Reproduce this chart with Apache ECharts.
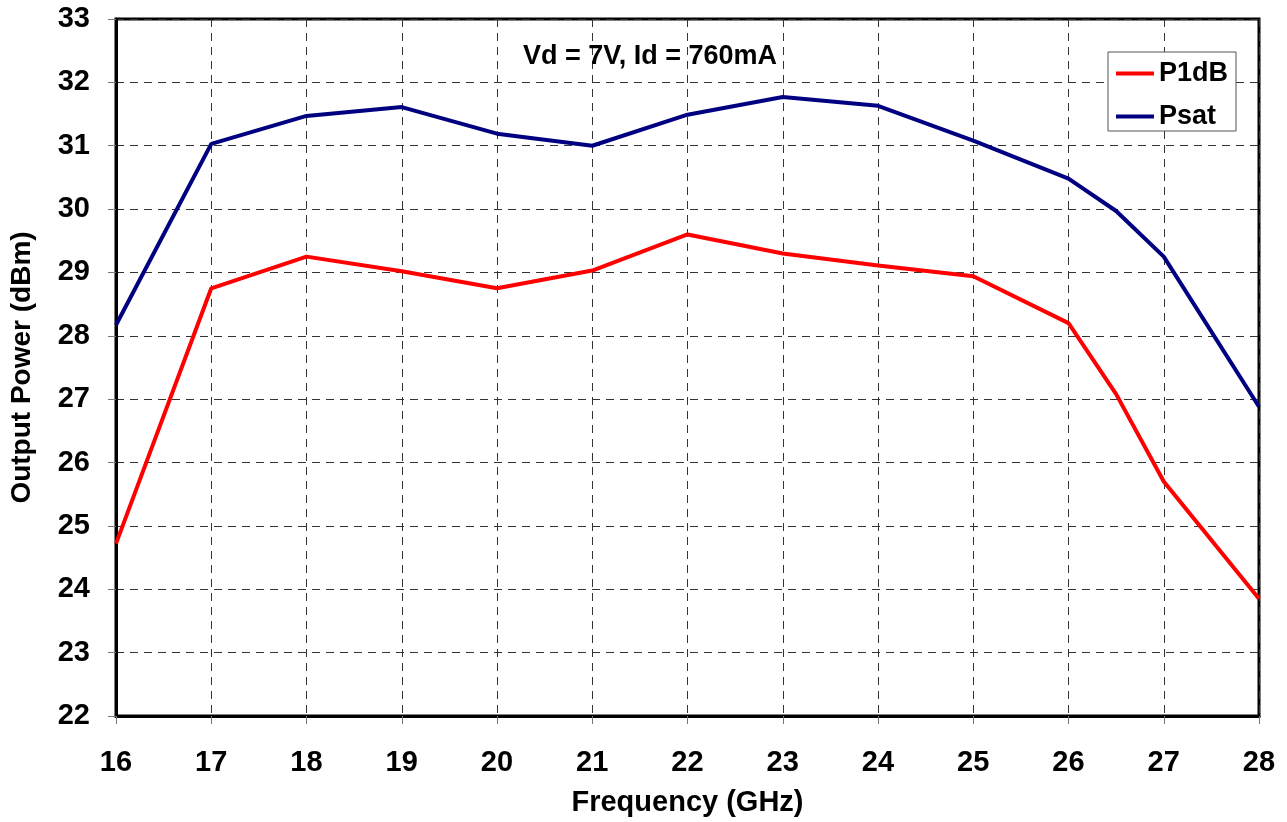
<!DOCTYPE html>
<html><head><meta charset="utf-8">
<script src="https://cdn.jsdelivr.net/npm/echarts@6/dist/echarts.min.js"></script>
<style>html,body{margin:0;padding:0;background:#fff}#c{width:1287px;height:822px}</style>
</head><body><div id="c"></div>
<script>
const freq = [16, 17, 18, 19, 20, 21, 22, 23, 24, 25, 26, 26.5, 27, 28];
const p1dB = [24.72, 28.75, 29.25, 29.02, 28.75, 29.03, 29.6, 29.3, 29.11, 28.94, 28.2, 27.08, 25.7, 23.85];
const psat = [28.17, 31.03, 31.47, 31.61, 31.19, 31.0, 31.49, 31.77, 31.63, 31.08, 30.48, 29.97, 29.25, 26.88];
const seriesNames = ['P1dB', 'Psat'];
const titleText = 'Vd = 7V, Id = 760mA';
const xName = 'Frequency (GHz)';
const yName = 'Output Power (dBm)';

const font = '"Liberation Sans", Arial, sans-serif';
const chart = echarts.init(document.getElementById('c'), null, {renderer: 'canvas'});
chart.setOption({
  animation: false,
  backgroundColor: '#fff',
  title: {text: titleText, left: 645, top: 38, textAlign: 'center',
    textStyle: {fontFamily: font, fontWeight: 'bold', fontSize: 27, color: '#000'}},
  grid: {left: 114, right: 28, top: 19, bottom: 104, show: true, borderColor: '#000', borderWidth: 3},
  legend: {
    orient: 'vertical', right: 51, top: 52,
    data: seriesNames,
    backgroundColor: '#fff', borderColor: '#555', borderWidth: 1,
    padding: [8, 8, 1, 8], itemGap: 16,
    icon: 'rect', itemWidth: 38, itemHeight: 4,
    textStyle: {fontFamily: font, fontWeight: 'bold', fontSize: 27, color: '#000'}
  },
  xAxis: {
    type: 'value', min: 16, max: 28, interval: 1,
    name: xName, nameLocation: 'middle', nameGap: 72,
    nameTextStyle: {fontFamily: font, fontWeight: 'bold', fontSize: 29, color: '#000'},
    axisLine: {show: true, onZero: false, lineStyle: {color: '#000', width: 3}},
    axisTick: {show: true, length: 8, lineStyle: {color: '#777', width: 1}},
    axisLabel: {margin: 32, fontFamily: font, fontWeight: 'bold', fontSize: 29, color: '#000'},
    splitLine: {show: true, lineStyle: {color: '#333', width: 1, type: [8, 6]}}
  },
  yAxis: {
    type: 'value', min: 22, max: 33, interval: 1,
    name: yName, nameLocation: 'middle', nameGap: 80, nameRotate: 90,
    nameTextStyle: {fontFamily: font, fontWeight: 'bold', fontSize: 28, color: '#000'},
    axisLine: {show: true, onZero: false, lineStyle: {color: '#000', width: 3}},
    axisTick: {show: true, length: 8, lineStyle: {color: '#777', width: 1}},
    axisLabel: {margin: 26, fontFamily: font, fontWeight: 'bold', fontSize: 29, color: '#000'},
    splitLine: {show: true, lineStyle: {color: '#333', width: 1, type: [8, 6]}}
  },
  series: [
    {name: seriesNames[0], type: 'line', data: freq.map((f, i) => [f, p1dB[i]]),
      showSymbol: false, symbol: 'none', lineStyle: {color: '#ff0000', width: 4}, itemStyle: {color: '#ff0000'}, z: 3},
    {name: seriesNames[1], type: 'line', data: freq.map((f, i) => [f, psat[i]]),
      showSymbol: false, symbol: 'none', lineStyle: {color: '#000080', width: 4}, itemStyle: {color: '#000080'}, z: 3}
  ]
});
</script></body></html>
